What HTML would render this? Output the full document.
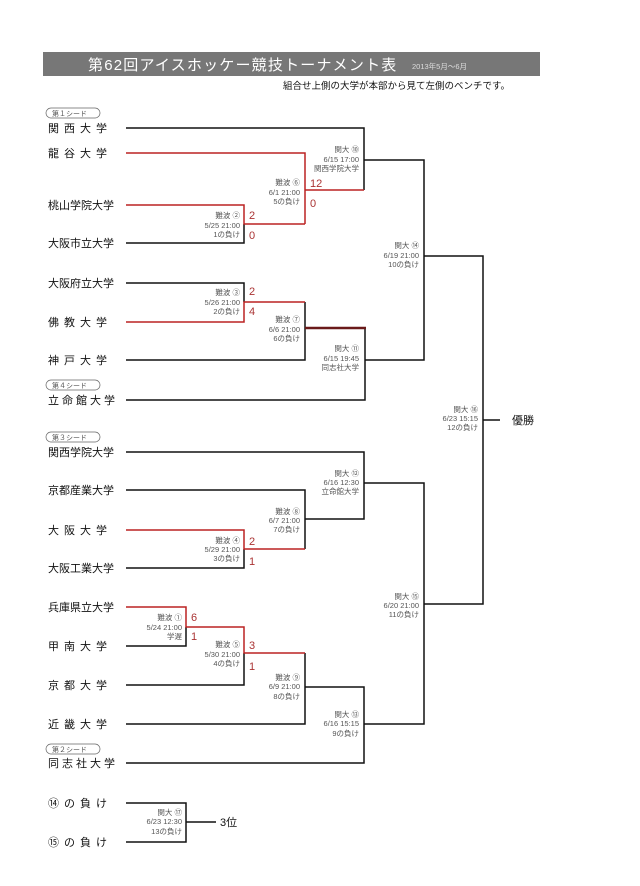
<!DOCTYPE html>
<html><head><meta charset="utf-8"><style>
html,body{margin:0;padding:0;background:#fff;width:640px;height:886px;overflow:hidden}
svg{display:block}
text{font-family:"Liberation Sans","Noto Sans CJK JP",sans-serif}
.t{font-size:11px;fill:#111}
.l{font-size:7.5px;fill:#555;text-anchor:end}
.s{font-size:11px;fill:#a33}
.sd{font-size:7px;fill:#555}
</style></head><body>
<svg width="640" height="886" viewBox="0 0 640 886">
<rect x="43" y="52" width="497" height="24" fill="#777"/>
<text x="88" y="70" font-size="15" fill="#fff" letter-spacing="1.2">第62回アイスホッケー競技トーナメント表</text>
<text x="412" y="69" font-size="7.5" fill="#ddd">2013年5月～6月</text>
<text x="283" y="89" font-size="9.5" fill="#111">組合せ上側の大学が本部から見て左側のベンチです。</text>

<g class="sd">
<rect x="46" y="108" width="54" height="10" rx="5" fill="none" stroke="#666" stroke-width="0.7"/><text x="52" y="116">第１シード</text>
<rect x="46" y="380" width="54" height="10" rx="5" fill="none" stroke="#666" stroke-width="0.7"/><text x="52" y="388">第４シード</text>
<rect x="46" y="432" width="54" height="10" rx="5" fill="none" stroke="#666" stroke-width="0.7"/><text x="52" y="440">第３シード</text>
<rect x="46" y="744" width="54" height="10" rx="5" fill="none" stroke="#666" stroke-width="0.7"/><text x="52" y="752">第２シード</text>
</g>

<g class="t">
<text x="48" y="132" letter-spacing="5">関西大学</text>
<text x="48" y="157" letter-spacing="5">龍谷大学</text>
<text x="48" y="209">桃山学院大学</text>
<text x="48" y="247">大阪市立大学</text>
<text x="48" y="287">大阪府立大学</text>
<text x="48" y="326" letter-spacing="5">佛教大学</text>
<text x="48" y="364" letter-spacing="5">神戸大学</text>
<text x="48" y="404" letter-spacing="3">立命館大学</text>
<text x="48" y="456">関西学院大学</text>
<text x="48" y="494">京都産業大学</text>
<text x="48" y="534" letter-spacing="5">大阪大学</text>
<text x="48" y="572">大阪工業大学</text>
<text x="48" y="611">兵庫県立大学</text>
<text x="48" y="650" letter-spacing="5">甲南大学</text>
<text x="48" y="689" letter-spacing="5">京都大学</text>
<text x="48" y="728" letter-spacing="5">近畿大学</text>
<text x="48" y="767" letter-spacing="3">同志社大学</text>
<text x="48" y="807" letter-spacing="5">⑭の負け</text>
<text x="48" y="846" letter-spacing="5">⑮の負け</text>
<text x="512" y="424">優勝</text>
<text x="220" y="826">3位</text>
</g>

<g fill="none" stroke="#111" stroke-width="1.5">
<path d="M126 128H364V190"/>
<path d="M126 243H244V224"/>
<path d="M126 283H244V302"/>
<path d="M305 302V360H126"/>
<path d="M126 400H365V328"/>
<path d="M364 160H424V360H365"/>
<path d="M424 256H483V604H424"/>
<path d="M483 420H500"/>
<path d="M126 452H364V519H305"/>
<path d="M126 490H305V549"/>
<path d="M126 568H244V549"/>
<path d="M126 646H186V627"/>
<path d="M126 685H244V653"/>
<path d="M305 653V724H126"/>
<path d="M305 687H364V763H126"/>
<path d="M364 483H424V724H364"/>
<path d="M126 803H186V842H126"/>
<path d="M186 822H216"/>
</g>
<g fill="none" stroke="#b22" stroke-width="1.5">
<path d="M126 153H305V224"/>
<path d="M305 190H364"/>
<path d="M126 205H244V224H305"/>
<path d="M126 322H244V302H305"/>
<path d="M126 530H244V549H305"/>
<path d="M126 607H186V627H244V653H305"/>
</g>
<path d="M305 328H366" stroke="#6a1a1a" stroke-width="2.5"/>

<g class="s">
<text x="310" y="187">12</text><text x="310" y="207">0</text>
<text x="249" y="219">2</text><text x="249" y="239">0</text>
<text x="249" y="295">2</text><text x="249" y="315">4</text>
<text x="249" y="545">2</text><text x="249" y="565">1</text>
<text x="191" y="621">6</text><text x="191" y="640">1</text>
<text x="249" y="649">3</text><text x="249" y="670">1</text>
</g>

<g class="l">
<text x="359" y="152">関大 ⑩</text><text x="359" y="162">6/15 17:00</text><text x="359" y="171">関西学院大学</text>
<text x="300" y="185">難波 ⑥</text><text x="300" y="195">6/1 21:00</text><text x="300" y="204">5の負け</text>
<text x="240" y="218">難波 ②</text><text x="240" y="228">5/25 21:00</text><text x="240" y="237">1の負け</text>
<text x="240" y="295">難波 ③</text><text x="240" y="305">5/26 21:00</text><text x="240" y="314">2の負け</text>
<text x="300" y="322">難波 ⑦</text><text x="300" y="332">6/6 21:00</text><text x="300" y="341">6の負け</text>
<text x="359" y="351">関大 ⑪</text><text x="359" y="361">6/15 19:45</text><text x="359" y="370">同志社大学</text>
<text x="419" y="248">関大 ⑭</text><text x="419" y="258">6/19 21:00</text><text x="419" y="267">10の負け</text>
<text x="478" y="412">関大 ⑯</text><text x="478" y="421">6/23 15:15</text><text x="478" y="430">12の負け</text>
<text x="359" y="476">関大 ⑫</text><text x="359" y="485">6/16 12:30</text><text x="359" y="494">立命館大学</text>
<text x="300" y="514">難波 ⑧</text><text x="300" y="523">6/7 21:00</text><text x="300" y="532">7の負け</text>
<text x="240" y="543">難波 ④</text><text x="240" y="552">5/29 21:00</text><text x="240" y="561">3の負け</text>
<text x="182" y="620">難波 ①</text><text x="182" y="630">5/24 21:00</text><text x="182" y="639">学遅</text>
<text x="240" y="647">難波 ⑤</text><text x="240" y="657">5/30 21:00</text><text x="240" y="666">4の負け</text>
<text x="300" y="680">難波 ⑨</text><text x="300" y="689">6/9 21:00</text><text x="300" y="699">8の負け</text>
<text x="359" y="717">関大 ⑬</text><text x="359" y="726">6/16 15:15</text><text x="359" y="736">9の負け</text>
<text x="419" y="599">関大 ⑮</text><text x="419" y="608">6/20 21:00</text><text x="419" y="617">11の負け</text>
<text x="182" y="815">関大 ⑰</text><text x="182" y="824">6/23 12:30</text><text x="182" y="834">13の負け</text>
</g>
</svg>
</body></html>
